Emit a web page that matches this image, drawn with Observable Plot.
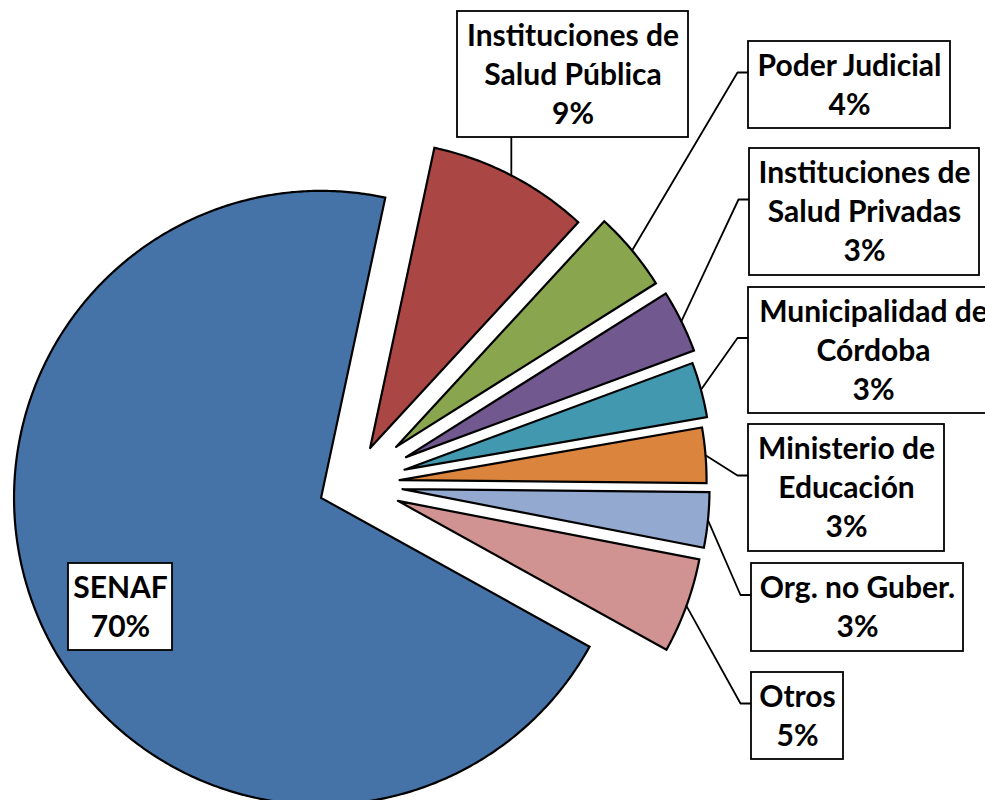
<!DOCTYPE html>
<html>
<head>
<meta charset="utf-8">
<script src="https://cdn.jsdelivr.net/npm/d3@7"></script>
<script src="https://cdn.jsdelivr.net/npm/@observablehq/plot@0.6"></script>
<style>
  html, body { margin: 0; padding: 0; background: #fff; overflow: hidden; }
  #chart svg { display: block; }
</style>
</head>
<body>
<div id="chart"></div>
<script>
// ---- data ----
const categories = [
  "SENAF",
  "Instituciones de\nSalud Pública",
  "Poder Judicial",
  "Instituciones de\nSalud Privadas",
  "Municipalidad de\nCórdoba",
  "Ministerio de\nEducación",
  "Org. no Guber.",
  "Otros"
];
const values = [70.3, 8.5, 4.2, 3.3, 2.9, 2.9, 2.9, 5.0];
const colors = ["#4572A7", "#AA4643", "#89A54E", "#71588F", "#4198AF", "#DB843D", "#93A9CF", "#D19392"];

// ---- layout (pixels / style) ----
const W = 985, H = 800;
const pie = {cx: 351, cy: 483.5, r: 307, startDeg: 119};
// per-slice explosion as a fraction of radius (style)
const explode = [0.109, 0.132, 0.189, 0.198, 0.179, 0.157, 0.167, 0.161];
// label boxes [x1, y1, x2, y2]
const boxes = [
  [68, 563, 172, 650],
  [457, 11, 688, 137],
  [748, 41, 950, 128],
  [749, 148, 979, 275],
  [748, 287, 998, 413],
  [748, 424, 944, 551],
  [751, 563, 963, 651],
  [751, 672, 843, 759]
];
const leaderKind = ["none", "below", "left", "left", "left", "left", "left", "left"];

// ---- geometry from data ----
const total = d3.sum(values);
const rad = d => d * Math.PI / 180;
let acc = pie.startDeg;
const slices = values.map((v, i) => {
  const a0 = acc, a1 = acc + v / total * 360;
  acc = a1;
  const mid = (a0 + a1) / 2;
  const e = explode[i] * pie.r;
  const vx = pie.cx + e * Math.sin(rad(mid));
  const vy = pie.cy - e * Math.cos(rad(mid));
  const pts = [{x: vx, y: vy}];
  const n = Math.max(2, Math.ceil((a1 - a0) / 0.5));
  for (let k = 0; k <= n; k++) {
    const t = a0 + (a1 - a0) * k / n;
    pts.push({x: vx + pie.r * Math.sin(rad(t)), y: vy - pie.r * Math.cos(rad(t))});
  }
  pts.push({x: vx, y: vy});
  const mx = vx + pie.r * Math.sin(rad(mid));
  const my = vy - pie.r * Math.cos(rad(mid));
  return {name: categories[i], value: v, color: colors[i], pts, mx, my};
});

const leaders = [];
slices.forEach((s, i) => {
  const b = boxes[i];
  const kind = leaderKind[i];
  if (kind === "below") {
    leaders.push({id: i, x: s.mx, y: s.my}, {id: i, x: s.mx, y: b[3]});
  } else if (kind === "left") {
    const ly = (b[1] + b[3]) / 2 - 12.5;
    leaders.push({id: i, x: s.mx, y: s.my}, {id: i, x: b[0] - 11, y: ly}, {id: i, x: b[0], y: ly});
  }
});

const labels = slices.map((s, i) => ({
  x: (boxes[i][0] + boxes[i][2]) / 2,
  y: (boxes[i][1] + boxes[i][3]) / 2 - 2,
  text: s.name + "\n" + Math.round(s.value) + "%"
}));
const boxData = boxes.map(b => ({x1: b[0], y1: b[1], x2: b[2], y2: b[3]}));

const marks = [];
slices.forEach(s => {
  marks.push(Plot.line(s.pts, {x: "x", y: "y", fill: s.color, stroke: "#000", strokeWidth: 2.2,
    strokeLinejoin: "miter", strokeMiterlimit: 8, curve: "linear"}));
});
marks.push(Plot.line(leaders, {x: "x", y: "y", z: "id", stroke: "#000", strokeWidth: 1.8, curve: "linear"}));
marks.push(Plot.rect(boxData, {x1: "x1", y1: "y1", x2: "x2", y2: "y2", fill: "#fff", stroke: "#000", strokeWidth: 1.8}));
marks.push(Plot.text(labels, {x: "x", y: "y", text: "text", fontSize: 30, fontWeight: "bold",
  fontFamily: "Lato, 'Open Sans', sans-serif", lineHeight: 1.3, textAnchor: "middle", lineAnchor: "middle", fill: "#000"}));

const chart = Plot.plot({
  width: W, height: H, margin: 0,
  x: {domain: [0, W], range: [0, W], axis: null},
  y: {domain: [0, H], range: [0, H], axis: null},
  style: {background: "#fff"},
  marks
});
document.getElementById("chart").appendChild(chart);
</script>
</body>
</html>
